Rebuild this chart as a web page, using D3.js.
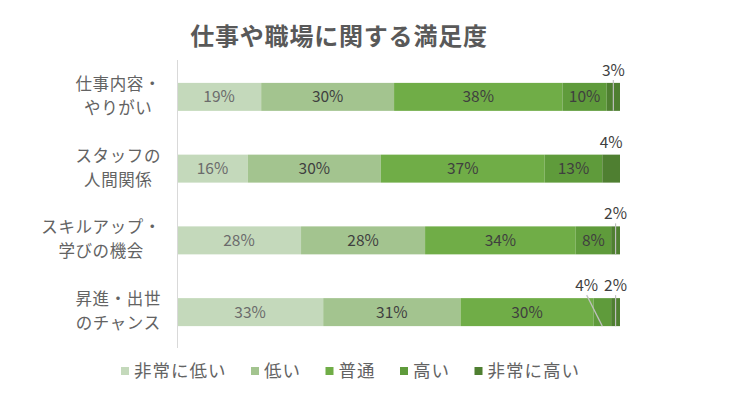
<!DOCTYPE html>
<html><head><meta charset="utf-8">
<script src="https://cdn.jsdelivr.net/npm/d3@7"></script>
<style>
html,body{margin:0;padding:0;background:#fff;}
svg{display:block;font-family:"Noto Sans CJK JP","Noto Sans",sans-serif;}
</style></head>
<body>
<svg id="chart" width="736" height="397"></svg>
<script>
// ---- data ----
const title = "仕事や職場に関する満足度";
const categories = ["仕事内容・やりがい","スタッフの人間関係","スキルアップ・学びの機会","昇進・出世のチャンス"];
const categoryLines = [["仕事内容・","やりがい"],["スタッフの","人間関係"],["スキルアップ・","学びの機会"],["昇進・出世","のチャンス"]];
const seriesNames = ["非常に低い","低い","普通","高い","非常に高い"];
const veryLow  = [19,16,28,33];
const low      = [30,30,28,31];
const normal   = [38,37,34,30];
const high     = [10,13,8,4];
const veryHigh = [3,4,2,2];
const colors = ["#c4d9bb","#a3c48f","#70ad47","#5f9b3b","#4f7f31"];

const seriesValues = [veryLow, low, normal, high, veryHigh];
const rows = categories.map((c,i)=>{
  const o = {cat:c};
  seriesNames.forEach((s,j)=>o[s]=seriesValues[j][i]);
  return o;
});

const svg = d3.select("#chart");
const plot = {left:177, right:620, top:61, bottom:348};

const x = d3.scaleLinear().domain([0,100]).range([plot.left, plot.right]);
const y = d3.scaleBand().domain(categories).range([plot.top, plot.bottom]).paddingInner(0.61).paddingOuter(0.305);

const stack = d3.stack().keys(seriesNames)(rows);

// title
svg.append("text").attr("x",339).attr("y",45).attr("text-anchor","middle")
  .attr("font-size",24).attr("font-weight","bold").attr("fill","#595959")
  .attr("letter-spacing","0.8px").text(title);

// bars
const g = svg.append("g");
stack.forEach((layer,j)=>{
  g.selectAll(null).data(layer).enter().append("rect")
    .attr("x",d=>x(d[0])).attr("width",d=>x(d[1])-x(d[0]))
    .attr("y",d=>y(d.data.cat)).attr("height",y.bandwidth())
    .attr("fill",colors[j]);
});

// axis line (category axis)
const yAxis = d3.axisLeft(y).tickSize(0).tickFormat("");
const ax = svg.append("g").attr("transform",`translate(${plot.left},0)`).call(yAxis);
ax.select(".domain").attr("stroke","#d9d9d9").attr("stroke-width",1)
  .attr("d",`M0.5,${plot.top-1}V${plot.bottom}`);

// category labels (wrapped, centered within block, block right aligned)
categories.forEach((c,i)=>{
  const cy = y(c)+y.bandwidth()/2 - 1;
  const grp = svg.append("g");
  const lines = categoryLines[i];
  const texts = lines.map((ln,k)=>grp.append("text")
      .attr("font-size",16.5).attr("fill","#636363").attr("letter-spacing","0.6px")
      .attr("text-anchor","middle")
      .attr("y",cy + (k - (lines.length-1)/2)*24).attr("dy","0.36em").text(ln));
  const widths = texts.map(t=>t.node().getComputedTextLength());
  const maxW = d3.max(widths);
  const rightEdge = 161;
  texts.forEach(t=>t.attr("x",rightEdge - maxW/2));
});

// data labels
const labelFont = 15.5;
rows.forEach((r,i)=>{
  const top = y(r.cat), bw = y.bandwidth(), cy = top+bw/2;
  const outside = [];
  stack.forEach((layer,j)=>{
    const d = layer[i];
    const v = d[1]-d[0];
    const cx = (x(d[0])+x(d[1]))/2;
    if (v > 4) {
      svg.append("text").attr("x",cx).attr("y",cy).attr("dy","0.36em")
        .attr("text-anchor","middle").attr("font-size",labelFont)
        .attr("fill", j===0 ? "#6b6b6b" : "#3f3f3f")
        .text(v+"%");
    } else {
      outside.push({v, cx, w:x(d[1])-x(d[0])});
    }
  });
  let nextLeft = Infinity;
  for (let k=outside.length-1;k>=0;k--){
    const o = outside[k];
    const t = svg.append("text").attr("y",top-7).attr("text-anchor","middle")
      .attr("font-size",labelFont).attr("fill","#404040").text(o.v+"%");
    const tw = t.node().getComputedTextLength();
    let lx = Math.min(o.cx, 617);
    if (lx + tw/2 > nextLeft - 6) lx = nextLeft - 6 - tw/2;
    t.attr("x",lx);
    nextLeft = lx - tw/2;
    if (Math.abs(lx-o.cx) > 3 || o.w < 15) {
      svg.append("line").attr("x1",lx).attr("y1",top-3)
        .attr("x2",o.cx).attr("y2",top+bw)
        .attr("stroke","#bfbfbf").attr("stroke-width",1.2);
    }
  }
});

// legend: spread across 121..580
const legLeft = 121, legRight = 580;
const leg = svg.append("g").attr("transform",`translate(0,371)`);
const items = seriesNames.map((s,j)=>{
  const it = leg.append("g");
  it.append("rect").attr("x",0).attr("y",-4).attr("width",8).attr("height",8).attr("fill",colors[j]);
  const t = it.append("text").attr("x",13).attr("dy","0.36em").attr("font-size",17.5)
    .attr("letter-spacing","1px").attr("fill","#636363").text(s);
  return {it, w: 13 + t.node().getComputedTextLength()};
});
const sumW = d3.sum(items, d=>d.w);
const gap = (legRight - legLeft - sumW)/(items.length-1);
let pos = legLeft;
items.forEach(d=>{ d.it.attr("transform",`translate(${pos},0)`); pos += d.w + gap; });
</script>
</body></html>
